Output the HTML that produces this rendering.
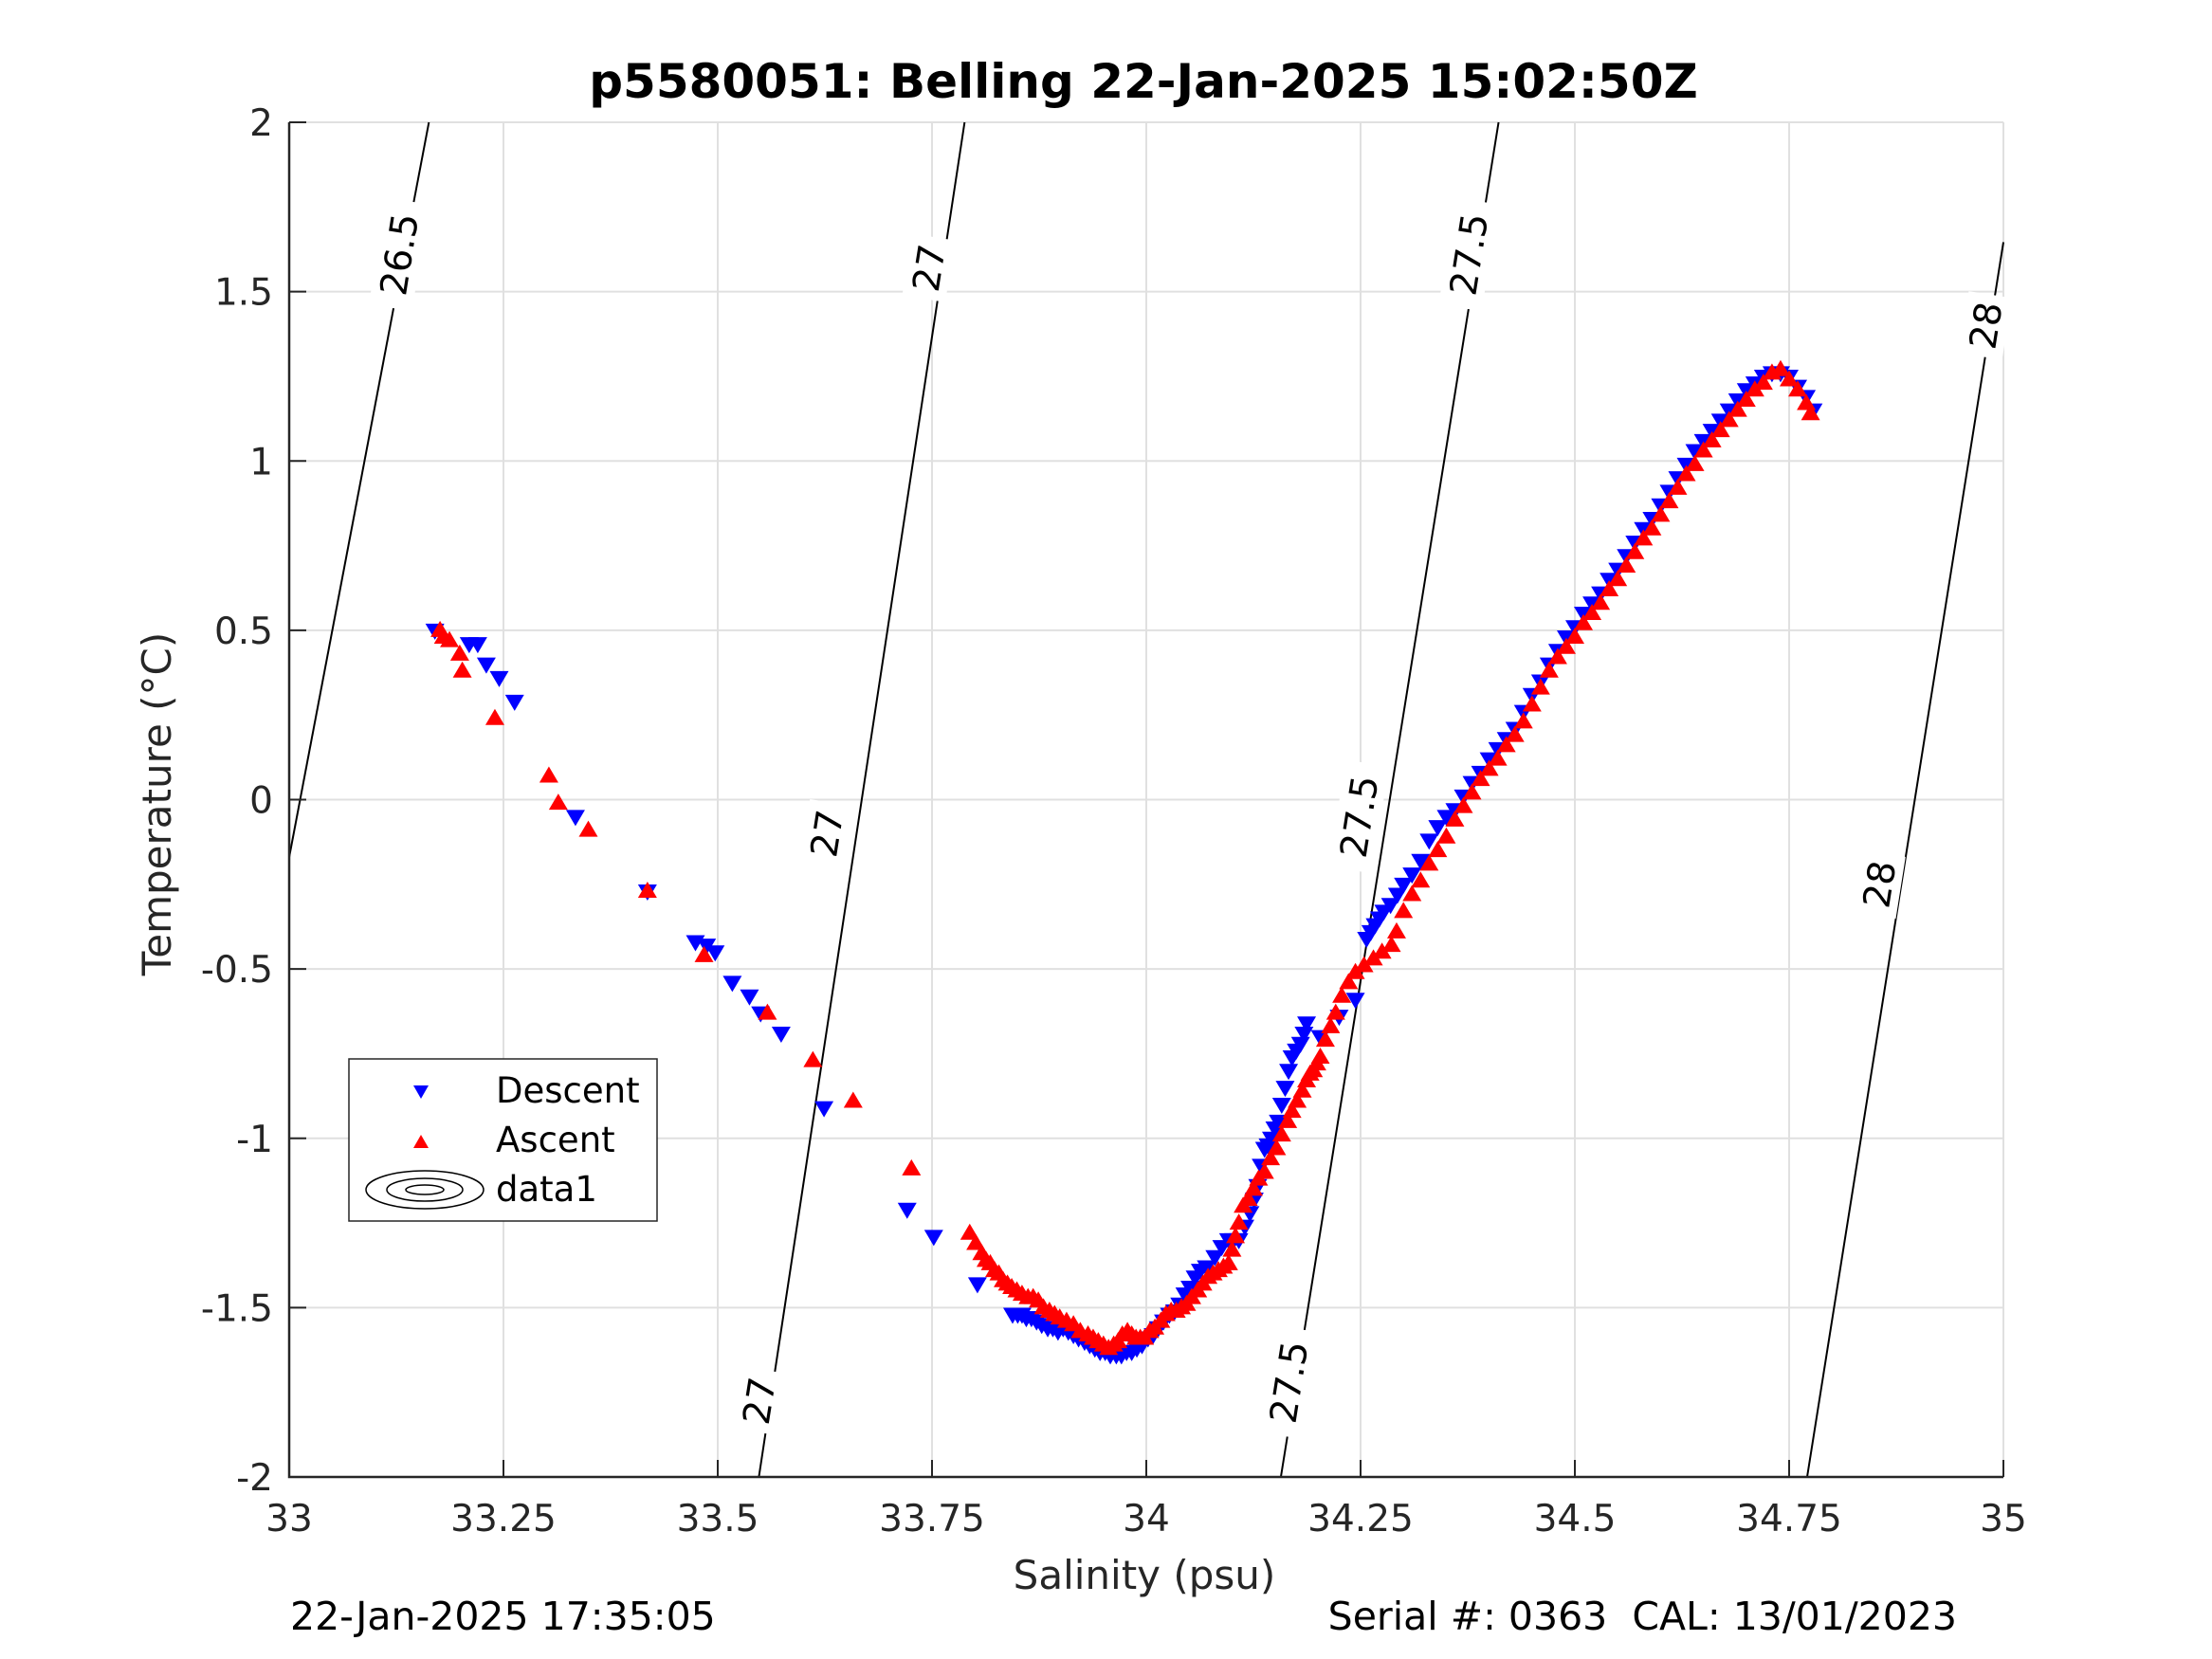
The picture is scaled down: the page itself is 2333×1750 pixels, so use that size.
<!DOCTYPE html>
<html><head><meta charset="utf-8"><style>
html,body{margin:0;padding:0;background:#fff;}
svg{display:block;font-family:"DejaVu Sans","Liberation Sans",sans-serif;}
</style></head><body>
<svg id="chart" width="2333" height="1750" viewBox="0 0 2333 1750" xmlns="http://www.w3.org/2000/svg">
<rect width="2333" height="1750" fill="#fff"/>
<g id="grid"></g>
<g id="contours"></g>
<g id="desc"></g>
<g id="asc"></g>
<g id="axes"></g>
<text x="1206" y="103" font-size="50" font-weight="bold" text-anchor="middle">p5580051: Belling 22-Jan-2025 15:02:50Z</text>
<text x="1207" y="1676" font-size="42" fill="#262626" text-anchor="middle">Salinity (psu)</text>
<text x="0" y="0" font-size="42" fill="#262626" text-anchor="middle" transform="translate(180,848) rotate(-90)">Temperature (°C)</text>
<text x="306" y="1719" font-size="41">22-Jan-2025 17:35:05</text>
<text x="2064" y="1719" font-size="41" text-anchor="end" xml:space="preserve">Serial #: 0363  CAL: 13/01/2023</text>
<g transform="translate(-1,-7)">
<rect x="369" y="1124" width="325" height="171" fill="#fff" stroke="#262626" stroke-width="1.5"/>
<polygon points="437,1152 453,1152 445,1166" fill="#00f"/>
<text x="524" y="1170" font-size="37">Descent</text>
<polygon points="437,1218 453,1218 445,1204" fill="#f00"/>
<text x="524" y="1222" font-size="37">Ascent</text>
<g fill="none" stroke="#000" stroke-width="1.5">
<ellipse cx="449" cy="1262" rx="62" ry="20"/><ellipse cx="449" cy="1262" rx="40" ry="12"/><ellipse cx="449" cy="1262" rx="20" ry="5"/></g>
<text x="524" y="1274" font-size="37">data1</text>
</g>
</svg>
<script>
const xTicks=[33,33.25,33.5,33.75,34,34.25,34.5,34.75,35];
const xTickLabels=["33","33.25","33.5","33.75","34","34.25","34.5","34.75","35"];
const yTicks=[-2,-1.5,-1,-0.5,0,0.5,1,1.5,2];
const yTickLabels=["-2","-1.5","-1","-0.5","0","0.5","1","1.5","2"];
const descS=[33.170,33.210,33.220,33.230,33.245,33.263,33.334,33.418,33.474,33.487,33.497,33.517,33.537,33.550,33.574,33.624,33.721,33.752,33.803,33.844,33.850,33.855,33.860,33.866,33.872,33.878,33.885,33.891,33.897,33.903,33.909,33.915,33.921,33.928,33.934,33.940,33.946,33.952,33.958,33.965,33.971,33.977,33.983,33.989,33.995,34.002,34.008,34.014,34.020,34.027,34.033,34.039,34.045,34.051,34.057,34.063,34.070,34.080,34.088,34.096,34.102,34.108,34.115,34.121,34.126,34.130,34.134,34.138,34.142,34.146,34.150,34.154,34.158,34.162,34.166,34.170,34.175,34.180,34.184,34.187,34.203,34.225,34.244,34.257,34.262,34.267,34.272,34.277,34.285,34.293,34.30,34.31,34.32,34.33,34.34,34.35,34.36,34.37,34.38,34.39,34.40,34.41,34.42,34.43,34.44,34.45,34.46,34.47,34.48,34.49,34.50,34.51,34.52,34.53,34.54,34.55,34.56,34.57,34.58,34.59,34.60,34.61,34.62,34.63,34.64,34.65,34.66,34.67,34.68,34.69,34.70,34.71,34.72,34.73,34.74,34.75,34.76,34.77,34.778];
const descT=[0.50,0.46,0.46,0.40,0.36,0.29,-0.05,-0.27,-0.42,-0.43,-0.45,-0.54,-0.58,-0.63,-0.69,-0.91,-1.21,-1.29,-1.43,-1.52,-1.52,-1.52,-1.53,-1.53,-1.54,-1.55,-1.56,-1.56,-1.57,-1.56,-1.57,-1.58,-1.59,-1.60,-1.61,-1.62,-1.63,-1.63,-1.64,-1.64,-1.64,-1.63,-1.63,-1.62,-1.61,-1.59,-1.58,-1.56,-1.54,-1.52,-1.51,-1.49,-1.46,-1.44,-1.41,-1.39,-1.38,-1.35,-1.32,-1.30,-1.30,-1.30,-1.26,-1.22,-1.18,-1.14,-1.08,-1.03,-1.02,-1.00,-0.97,-0.95,-0.90,-0.85,-0.80,-0.76,-0.74,-0.72,-0.69,-0.66,-0.70,-0.64,-0.59,-0.41,-0.39,-0.37,-0.35,-0.33,-0.31,-0.28,-0.25,-0.22,-0.18,-0.12,-0.08,-0.05,-0.03,0.01,0.05,0.08,0.12,0.15,0.18,0.21,0.26,0.31,0.35,0.40,0.44,0.48,0.51,0.55,0.58,0.61,0.65,0.68,0.72,0.76,0.80,0.83,0.87,0.91,0.95,0.99,1.03,1.06,1.09,1.12,1.15,1.18,1.21,1.23,1.25,1.26,1.26,1.25,1.22,1.19,1.15];
const ascS=[33.176,33.180,33.187,33.199,33.202,33.240,33.303,33.314,33.349,33.418,33.484,33.558,33.611,33.658,33.726,33.794,33.801,33.808,33.813,33.818,33.823,33.828,33.833,33.838,33.843,33.849,33.855,33.862,33.868,33.874,33.880,33.887,33.893,33.899,33.907,33.915,33.923,33.932,33.938,33.944,33.950,33.956,33.962,33.967,33.972,33.978,33.983,33.988,33.993,33.998,34.004,34.010,34.017,34.023,34.029,34.035,34.041,34.047,34.053,34.060,34.066,34.072,34.078,34.084,34.090,34.096,34.100,34.104,34.108,34.113,34.119,34.125,34.131,34.138,34.145,34.152,34.158,34.165,34.170,34.176,34.182,34.187,34.191,34.195,34.199,34.203,34.209,34.215,34.221,34.228,34.236,34.244,34.254,34.265,34.275,34.286,34.292,34.30,34.31,34.32,34.33,34.34,34.35,34.36,34.37,34.38,34.39,34.40,34.41,34.42,34.43,34.44,34.45,34.46,34.47,34.48,34.49,34.50,34.51,34.52,34.53,34.54,34.55,34.56,34.57,34.58,34.59,34.60,34.61,34.62,34.63,34.64,34.65,34.66,34.67,34.68,34.69,34.70,34.71,34.72,34.73,34.74,34.75,34.76,34.77,34.775];
const ascT=[0.50,0.48,0.47,0.43,0.38,0.24,0.07,-0.01,-0.09,-0.27,-0.46,-0.63,-0.77,-0.89,-1.09,-1.28,-1.31,-1.34,-1.36,-1.37,-1.39,-1.40,-1.42,-1.43,-1.44,-1.45,-1.46,-1.47,-1.47,-1.48,-1.50,-1.51,-1.52,-1.53,-1.54,-1.55,-1.57,-1.58,-1.59,-1.60,-1.61,-1.62,-1.61,-1.60,-1.58,-1.57,-1.58,-1.59,-1.59,-1.59,-1.57,-1.56,-1.54,-1.52,-1.51,-1.51,-1.50,-1.49,-1.47,-1.45,-1.43,-1.41,-1.40,-1.39,-1.38,-1.37,-1.33,-1.29,-1.25,-1.20,-1.18,-1.15,-1.12,-1.10,-1.06,-1.03,-0.99,-0.95,-0.92,-0.89,-0.86,-0.83,-0.81,-0.80,-0.78,-0.76,-0.71,-0.67,-0.63,-0.58,-0.54,-0.51,-0.49,-0.47,-0.45,-0.43,-0.39,-0.33,-0.28,-0.24,-0.19,-0.15,-0.11,-0.06,-0.02,0.02,0.06,0.09,0.12,0.16,0.19,0.23,0.28,0.33,0.38,0.42,0.45,0.48,0.52,0.55,0.58,0.62,0.65,0.69,0.73,0.77,0.80,0.84,0.88,0.92,0.96,0.99,1.03,1.06,1.09,1.12,1.15,1.18,1.21,1.23,1.26,1.27,1.24,1.21,1.17,1.14];
const contourLevels=["26.5","27","27.5","28"];
const contourS0=[33.0,33.548,34.157,34.771];
const contourT0=[-0.17,-2,-2,-2];
const contourS1=[33.163,33.788,34.411,35.0];
const contourT1=[2,2,2,1.646];
const contourLabelLevel=["26.5","27","27","27","27.5","27.5","27.5","28","28"];
const contourLabelS=[33.128,33.746,33.627,33.548,34.376,34.248,34.166,34.979,34.855];
const contourLabelT=[1.61,1.57,-0.10,-1.775,1.61,-0.05,-1.72,1.40,-0.25];

const X0=305,X1=2113,Y0=1558,Y1=129;
const xs=s=>X0+(s-33)/2*(X1-X0);
const ys=t=>Y0-(t+2)/4*(Y0-Y1);
const NS="http://www.w3.org/2000/svg";
function mk(tag,attrs,parent){const e=document.createElementNS(NS,tag);for(const k in attrs)e.setAttribute(k,attrs[k]);parent.appendChild(e);return e;}
const grid=document.getElementById('grid'),axes=document.getElementById('axes');
xTicks.forEach((v,i)=>{
 const l=mk('line',{x1:xs(v),x2:xs(v),y1:Y1,y2:Y0,stroke:'#e0e0e0','stroke-width':2},grid);
 
 
 const t=mk('line',{x1:xs(v),x2:xs(v),y1:Y0,y2:Y0-18,stroke:'#262626','stroke-width':2},axes);
 
 
 const tx=mk('text',{x:xs(v),y:Y0+57,'font-size':39,fill:'#262626','text-anchor':'middle'},axes);
 tx.textContent=xTickLabels[i];
 
 
});
yTicks.forEach((v,i)=>{
 const l=mk('line',{x1:X0,x2:X1,y1:ys(v),y2:ys(v),stroke:'#e0e0e0','stroke-width':2},grid);
 
 
 const t=mk('line',{x1:X0,x2:X0+18,y1:ys(v),y2:ys(v),stroke:'#262626','stroke-width':2},axes);
 
 
 const tx=mk('text',{x:X0-17,y:ys(v)+14,'font-size':39,fill:'#262626','text-anchor':'end'},axes);
 tx.textContent=yTickLabels[i];
 
 
});
const axl=mk('path',{d:`M${X0},${Y1}V${Y0}H${X1}`,fill:'none',stroke:'#262626','stroke-width':2.5},axes);


const cg=document.getElementById('contours');
contourLevels.forEach((lv,i)=>{
 const l=mk('line',{x1:xs(contourS0[i]),y1:ys(contourT0[i]),x2:xs(contourS1[i]),y2:ys(contourT1[i]),stroke:'#000','stroke-width':2},cg);
 
 
});
contourLabelS.forEach((s,i)=>{
 const x=xs(contourLabelS[i]),y=ys(contourLabelT[i]);
 const g=mk('g',{transform:`translate(${x},${y}) rotate(-81)`},cg);
 
 
 const w=contourLabelLevel[i].length*24+18;
 mk('rect',{x:-w/2,y:-23,width:w,height:46,fill:'#fff'},g);
 const t=mk('text',{x:0,y:14,'font-size':39,'text-anchor':'middle'},g);
 t.textContent=contourLabelLevel[i];
});
const dg=document.getElementById('desc');
descS.forEach((s,i)=>{
 const x=xs(s),y=ys(descT[i]);
 const p=mk('polygon',{points:`${x-10},${y-7} ${x+10},${y-7} ${x},${y+10}`,fill:'#00f'},dg);
 
 
});
const ag=document.getElementById('asc');
ascS.forEach((s,i)=>{
 const x=xs(s),y=ys(ascT[i]);
 const p=mk('polygon',{points:`${x-10},${y+7} ${x+10},${y+7} ${x},${y-10}`,fill:'#f00'},ag);
 
 
});
</script>
</body></html>
